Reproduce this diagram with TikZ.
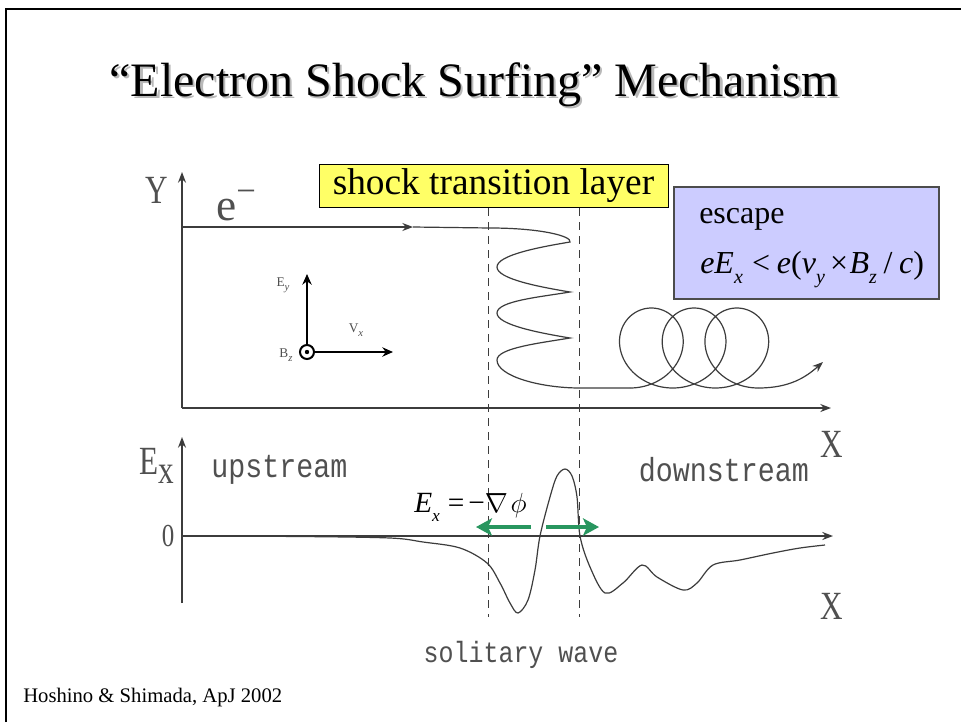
\documentclass[tikz,border=0pt]{standalone}
\usepackage{fontspec}
\usepackage{graphicx}
\setmainfont{Liberation Serif}
\newfontfamily\monofont{Liberation Mono}
\usetikzlibrary{arrows.meta}
\definecolor{lineg}{RGB}{60,60,60}
\definecolor{labg}{RGB}{80,80,80}
\definecolor{yellowbox}{RGB}{255,255,102}
\definecolor{lavbox}{RGB}{204,204,255}
\definecolor{grn}{RGB}{40,150,95}
\newcommand\lsub[2]{\raisebox{-0.32em}{\fontsize{#1}{#1}\selectfont\itshape #2}}
\newcommand\tallch[1]{\scalebox{0.78}[1]{#1}}
\newcommand\monotxt[2]{\scalebox{0.85}[1]{\monofont\fontsize{#1}{#1}\selectfont #2}}
\newcommand\titletext{“Electron Shock Surfing” Mechanism}
\begin{document}
\begin{tikzpicture}[x=0.75pt,y=-0.75pt,
  axisarrow/.style={draw=lineg, line width=1.1pt, -{Stealth[length=8pt,width=6pt]}},
  trajline/.style={draw=lineg, line width=0.9pt},
  shockdash/.style={draw=lineg, line width=0.9pt, dash pattern=on 6pt off 4.5pt},
  figlbl/.style={text=labg, inner sep=0pt, font=\fontsize{30}{30}\selectfont},
  smalllbl/.style={text=labg, inner sep=0pt, font=\fontsize{10}{10}\selectfont},
  greenarrow/.style={draw=grn, line width=3pt, -{Stealth[length=12pt,width=13pt,inset=3pt]}},
  tinyarrow/.style={draw=black, line width=1.4pt, -{Stealth[length=8pt,width=7pt]}}]
\useasboundingbox (0,0) rectangle (961,722);
\fill[white] (0,0) rectangle (961,722);
% frame
\coordinate (fbl) at (6,722);
\coordinate (ftl) at (6,9);
\coordinate (ftr) at (961,9);
\draw[line width=1.9pt, black] (fbl) -- (ftl) -- (ftr);
% title with shadow
\node[anchor=base, inner sep=0pt, font=\fontsize{36}{40}\selectfont] (title) at (474,96) {\makebox[0pt][l]{\hspace{1.8pt}\raisebox{-1.8pt}{\textcolor{gray!55}{\titletext}}}\titletext};
% dashed shock lines
\coordinate (d1t) at (488.5,208);
\coordinate (d1b) at (488.5,617);
\coordinate (d2t) at (579.5,208);
\coordinate (d2b) at (579.5,617);
\draw[shockdash] (d1t) -- (d1b);
\draw[shockdash] (d2t) -- (d2b);
% upper axes
\coordinate (Yo) at (182,408);
\coordinate (Ytip) at (182,172);
\coordinate (Xtip) at (831,408);
\draw[axisarrow] (Yo) -- (Ytip);
\draw[axisarrow] (Yo) -- (Xtip);
\node[figlbl] (Ylab) at (157,190) {\tallch{Y}};
\node[figlbl] (Xlab1) at (832,444) {\tallch{X}};
% electron label
\node[figlbl, anchor=base west] (elab) at (216,220) {\fontsize{34}{34}\selectfont e\raisebox{13pt}{\fontsize{26}{26}\selectfont −}};
% trajectory
\coordinate (ea) at (183,227);
\coordinate (earr) at (413,227);
\coordinate (e1) at (490,228);
\coordinate (R1) at (570,242);
\coordinate (L1) at (497,267);
\coordinate (R2) at (570,292);
\coordinate (L2) at (497,313);
\coordinate (R3) at (570,338);
\coordinate (L3) at (497,360);
\coordinate (zb) at (580,388);
\coordinate (tr0) at (630,388);
\coordinate (tr1) at (758.2,388);
\coordinate (etip) at (823,362);
\draw[trajline, -{Stealth[length=8pt,width=6pt]}] (ea) -- (earr);
\draw[trajline] (earr) -- (e1)
  .. controls (540,228) and (572,236) .. (R1)
  .. controls (540,247) and (497,255) .. (L1)
  .. controls (497,279) and (540,287) .. (R2)
  .. controls (540,297) and (497,301) .. (L2)
  .. controls (497,325) and (540,333) .. (R3)
  .. controls (540,343) and (497,348) .. (L3)
  .. controls (497,376) and (540,388) .. (zb) -- (tr0);
\draw[trajline] plot[domain=0:1080, samples=300, smooth, variable=\t] ({630+6.8*rad(\t)+42*sin(\t)}, {348+40*cos(\t)});
\draw[trajline, -{Stealth[length=8pt,width=6pt]}] (tr1) .. controls (790,388) and (806,377) .. (etip);
% small coordinate system
\coordinate (Bz) at (307,352);
\coordinate (Eyt) at (307,274);
\coordinate (Vxt) at (393,352);
\node[circle, draw=black, line width=1.5pt, inner sep=0pt, minimum size=10.5pt] (bzc) at (Bz) {};
\fill[black] (Bz) circle (2.2);
\draw[tinyarrow] (bzc.north) -- (Eyt);
\draw[tinyarrow] (bzc.east) -- (Vxt);
\node[smalllbl] (Eylab) at (283,285) {E\lsub{8}{y}};
\node[smalllbl] (Vxlab) at (356,330) {V\lsub{8}{x}};
\node[smalllbl] (Bzlab) at (286,355) {B\lsub{8}{z}};
% shock transition layer box
\node[draw=black, line width=0.7pt, fill=yellowbox, minimum width=261.75pt, minimum height=32.25pt, inner sep=0pt, font=\fontsize{28}{30}\selectfont] (stl) at (493.5,185.5) {shock transition layer};
% escape box
\node[draw=gray!60!black, line width=0.8pt, fill=lavbox, minimum width=198.75pt, minimum height=84pt, inner sep=0pt] (esc) at (806.5,243) {};
\node[anchor=base west, inner sep=0pt, font=\fontsize{24}{26}\selectfont] (esctxt) at (699,223) {escape};
\node[anchor=base west, inner sep=0pt, font=\fontsize{24}{26}\selectfont] (escform) at (700,273) {\textit{eE}\lsub{15}{x}\hspace{7pt}<\hspace{5pt}\textit{e}(\textit{v}\lsub{15}{y}\hspace{4pt}×\hspace{1pt}\textit{B}\lsub{15}{z}\hspace{5pt}/\hspace{5pt}\textit{c})};
% lower axes
\coordinate (Eo) at (182,603);
\coordinate (Etip) at (182,437);
\coordinate (Z0) at (182,536);
\coordinate (Ztip) at (833,536);
\draw[axisarrow] (Eo) -- (Etip);
\draw[axisarrow, line width=1.4pt] (Z0) -- (Ztip);
\node[figlbl] (Exlab) at (157,466) {\tallch{E\raisebox{-7pt}{x}}};
\node[figlbl, font=\fontsize{24}{24}\selectfont] (zerolab) at (168,536) {\tallch{0}};
\node[figlbl] (Xlab2) at (832,606) {\tallch{X}};
\node[anchor=west, inner sep=0pt, text=labg] (up) at (211,470) {\monotxt{25}{upstream}};
\node[inner sep=0pt, text=labg] (down) at (724,470) {\monotxt{25}{downstream}};
\node[inner sep=0pt, text=labg] (sol) at (521,655) {\monotxt{22}{solitary wave}};
% Ex profile
\draw[trajline] plot[smooth, tension=0.55] coordinates {
 (182,536) (300,536.5) (390,538) (423,542) (460,548) (487,563) (500,583) (510,603) (518,613) (528,600) (535,570) (540,536) (550,497) (557,476) (565,469) (572,476) (577,497) (580,536) (590,567) (605,593) (623,583) (642,565) (657,577) (683,590) (697,583) (713,565) (740,560) (773,553) (800,548) (825,545)};
% potential gradient
\node[anchor=base west, inner sep=0pt, font=\fontsize{22}{24}\selectfont] (exform) at (414,512) {\textit{E}\lsub{13}{x}\hspace{6pt}=\hspace{3pt}−$\nabla\hspace{2pt}\phi$};
\coordinate (gl0) at (531,527);
\coordinate (gl1) at (476,527);
\coordinate (gr0) at (546,527);
\coordinate (gr1) at (599,527);
\draw[greenarrow] (gl0) -- (gl1);
\draw[greenarrow] (gr0) -- (gr1);
% citation
\node[anchor=base west, inner sep=0pt, font=\fontsize{15.5}{17}\selectfont] (cite) at (23,702) {Hoshino \& Shimada, ApJ 2002};
\end{tikzpicture}
\end{document}
